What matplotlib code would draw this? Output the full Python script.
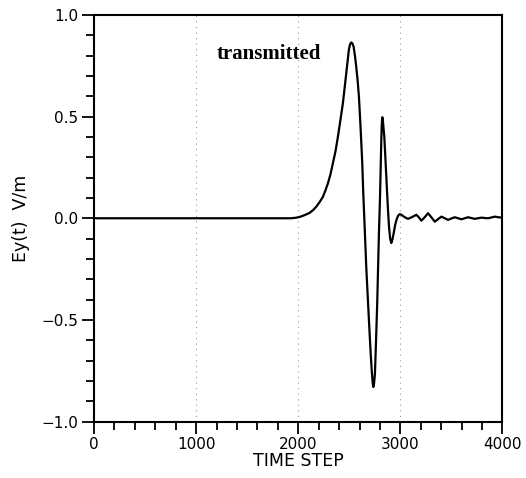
import numpy as np
import matplotlib
matplotlib.use('Agg')
import matplotlib.pyplot as plt
from matplotlib.ticker import MultipleLocator

# Values
time_step = [0, 500, 1000, 1500, 1923, 1970, 2012, 2060, 2110, 2145, 2175, 2210, 2241, 2265,
             2290, 2315, 2339, 2365, 2388, 2412, 2437, 2455, 2470, 2485, 2496, 2508, 2519,
             2530, 2542, 2555, 2568, 2581, 2594, 2610, 2627, 2637, 2647, 2666, 2683, 2699,
             2711, 2722, 2729, 2735, 2742, 2751, 2762, 2774, 2782, 2790, 2800, 2806, 2813,
             2818, 2823, 2828, 2836, 2843, 2856, 2869, 2880, 2889, 2900, 2911, 2922, 2934,
             2948, 2961, 2977, 2993, 3010, 3040, 3075, 3115, 3157, 3182, 3206, 3240, 3271,
             3305, 3337, 3370, 3402, 3435, 3467, 3500, 3533, 3565, 3598, 3630, 3663, 3696,
             3729, 3760, 3794, 3830, 3860, 3925, 3970, 4000]
ey = [0.0, 0.0, 0.0, 0.0, 0.0, 0.002, 0.006, 0.015, 0.026, 0.04, 0.056, 0.08, 0.105, 0.135,
      0.171, 0.215, 0.27, 0.33, 0.40, 0.48, 0.565, 0.645, 0.713, 0.78, 0.83, 0.857, 0.865,
      0.86, 0.845, 0.80, 0.745, 0.68, 0.60, 0.45, 0.27, 0.12, 0.0, -0.24, -0.41, -0.568,
      -0.68, -0.765, -0.81, -0.83, -0.815, -0.765, -0.60, -0.404, -0.24, -0.075, 0.089, 0.22, 0.38,
      0.46, 0.497, 0.485, 0.44, 0.40, 0.27, 0.138, 0.03, -0.043, -0.10, -0.122, -0.105, -0.075,
      -0.035, -0.01, 0.012, 0.02, 0.017, 0.006, -0.003, 0.006, 0.017, 0.004, -0.012, 0.006, 0.025,
      0.004, -0.017, -0.004, 0.008, 0.0, -0.008, -0.001, 0.005, 0.0, -0.005, 0.0, 0.005, 0.001,
      -0.003, 0.0, 0.003, 0.001, 0.0, 0.008, 0.004, 0.004]

x_major = [0, 1000, 2000, 3000, 4000]
y_major = [-1.0, -0.5, 0.0, 0.5, 1.0]
y_labels = ['\u22121.0', '\u22120.5', '0.0', '0.5', '1.0']
grid_x = [1000, 2000, 3000]

plt.rcParams['font.family'] = ['DejaVu Sans']

fig = plt.figure(figsize=(5.26, 4.78), dpi=100)
ax = fig.add_axes([0.1787, 0.1182, 0.7766, 0.8504])

for gx in grid_x:
    ax.axvline(gx, color='#999999', linestyle=(0, (1, 4)), linewidth=0.8, zorder=1)

ax.plot(time_step, ey, color='black', linewidth=1.6, zorder=3)

ax.set_xlim(0, 4000)
ax.set_ylim(-1.0, 1.0)
ax.set_xticks(x_major)
ax.set_yticks(y_major)
ax.xaxis.set_minor_locator(MultipleLocator(200))
ax.yaxis.set_minor_locator(MultipleLocator(0.1))
ax.set_yticklabels(y_labels)

ax.tick_params(which='major', direction='out', length=8.5, width=1.3, labelsize=11, pad=3)
ax.tick_params(which='minor', direction='out', length=5.8, width=1.3)
ax.tick_params(top=False, right=False)
for s in ax.spines.values():
    s.set_linewidth(1.5)

ax.set_xlabel('TIME STEP', fontsize=12.5, labelpad=0)
ax.set_ylabel('Ey(t)  V/m', fontsize=12.5, labelpad=8)

ax.text(1708, 0.81, 'transmitted', family='Liberation Serif', fontweight='bold',
        fontsize=15, ha='center', va='center')

fig.savefig('out.png', dpi=100)
